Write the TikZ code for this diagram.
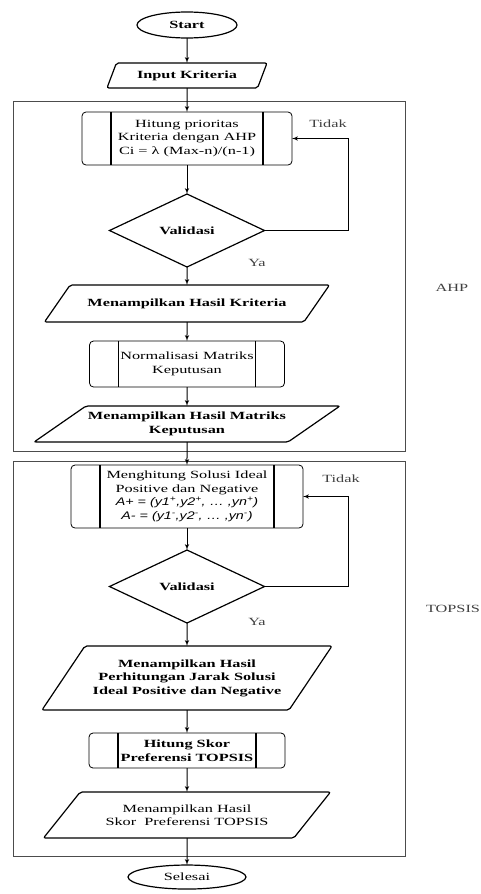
\documentclass[tikz,border=0pt]{standalone}
\usepackage{fontspec}
\setmainfont{Liberation Serif}[FakeStretch=1.48,
  UprightFont={Liberation Serif}, BoldFont={Liberation Serif Bold},
  ItalicFont={Liberation Serif Italic}, BoldItalicFont={Liberation Serif Bold Italic}]
\newfontfamily\formfont{Liberation Sans}[FakeStretch=1.3]
\usepackage{tikz}
\usetikzlibrary{positioning}
\usetikzlibrary{shapes.geometric,arrows}
\tikzstyle{base} = [font=\fontsize{11}{13.5}\selectfont, align=center, outer sep=0pt]
\tikzstyle{bold} = [font=\fontsize{11}{13.5}\selectfont\bfseries]
\tikzstyle{term} = [base, draw, ellipse, line width=1.2pt, inner sep=1pt]
\tikzstyle{io} = [base, draw, trapezium, trapezium stretches body, line width=1.2pt,
                rounded corners=2pt, inner sep=2pt]
\tikzstyle{sub} = [base, draw, rectangle, rounded corners=4pt, line width=0.8pt, inner sep=2pt,
                path picture={
                  \draw[line width=1.3pt] ([xshift=29pt]path picture bounding box.north west) -- ([xshift=29pt]path picture bounding box.south west);
                  \draw[line width=1.3pt] ([xshift=-29pt]path picture bounding box.north east) -- ([xshift=-29pt]path picture bounding box.south east);}]
\tikzstyle{decision} = [base, draw, diamond, line width=1.2pt, inner sep=0pt,
                minimum width=155pt, minimum height=73pt]
\tikzstyle{line} = [draw, -latex', line width=1pt]
\tikzstyle{frame} = [draw=black!70, line width=0.9pt]
\tikzstyle{lbl} = [base, text=black!75, inner sep=0pt]

\begin{document}
\begin{tikzpicture}[x=1pt,y=1pt]
        \useasboundingbox (0,0) rectangle (480,-894);
        \draw[frame] (13,-101) rectangle (405,-451);
        \draw[frame] (13,-461) rectangle (405,-856);
        \node[term, bold, minimum width=100pt, minimum height=26pt](start) at (187,-25){Start};
        \node[io, bold, below=25pt of start, minimum width=160pt, minimum height=25pt,
              trapezium left angle=56, trapezium right angle=124](input){Input Kriteria};
        \node[sub, below=24pt of input, minimum width=210pt, minimum height=53pt](hitung){Hitung prioritas\\ Kriteria dengan AHP\\ Ci = λ (Max-n)/(n-1)};
        \node[decision, bold, below=29pt of hitung](val1){Validasi};
        \node[io, bold, below=18pt of val1, minimum width=285pt, minimum height=37pt,
              trapezium left angle=28.6, trapezium right angle=151.4](hk){Menampilkan Hasil Kriteria};
        \node[sub, below=19pt of hk, minimum width=195pt, minimum height=46pt](norm){Normalisasi Matriks\\ Keputusan};
        \node[io, bold, below=19pt of norm, minimum width=285pt, minimum height=36pt,
              trapezium left angle=27.9, trapezium right angle=152.1](hm){Menampilkan Hasil Matriks\\ Keputusan};
        \node[sub, inner sep=1pt, below=23pt of hm, minimum width=232pt, minimum height=63pt](solusi){Menghitung Solusi Ideal\\ Positive dan Negative\\
              {\formfont\itshape A+ = (y1\textsuperscript{+},y2\textsuperscript{+}, … ,yn\textsuperscript{+})}\\
              {\formfont\itshape A- = (y1\textsuperscript{-},y2\textsuperscript{-}, … ,yn\textsuperscript{-})}};
        \node[decision, bold, below=22pt of solusi](val2){Validasi};
        \node[io, bold, below=23pt of val2, minimum width=290pt, minimum height=64pt,
              trapezium left angle=43.7, trapezium right angle=136.3](jarak){Menampilkan Hasil\\ Perhitungan Jarak Solusi\\ Ideal Positive dan Negative};
        \node[sub, bold, below=23pt of jarak, minimum width=196pt, minimum height=35pt](skor){Hitung Skor\\ Preferensi TOPSIS};
        \node[io, below=24pt of skor, minimum width=287pt, minimum height=46pt,
              trapezium left angle=34.5, trapezium right angle=145.5](hs){Menampilkan Hasil\\ Skor~ Preferensi TOPSIS};
        \node[term, below=27pt of hs, minimum width=118pt, minimum height=24pt](selesai){Selesai};
        % labels
        \node[lbl](tidak1) at (328,-124){Tidak};
        \node[lbl](ya1) at (257,-263){Ya};
        \node[lbl](ahp) at (452,-288){AHP};
        \node[lbl](tidak2) at (341,-479){Tidak};
        \node[lbl](ya2) at (257,-622){Ya};
        \node[lbl](topsis) at (453,-609){TOPSIS};
        \coordinate (back) at (348,0);
        \path[line](start) -- (input);
        \path[line](input) -- (hitung);
        \path[line](hitung) -- (val1);
        \path[line](val1.east) -- (val1.east -| back) |- (hitung.east);
        \path[line](val1) -- (hk);
        \path[line](hk) -- (norm);
        \path[line](norm) -- (hm);
        \path[line](hm) -- (solusi);
        \path[line](solusi) -- (val2);
        \path[line](val2.east) -- (val2.east -| back) |- (solusi.east);
        \path[line](val2) -- (jarak);
        \path[line](jarak) -- (skor);
        \path[line](skor) -- (hs);
        \path[line](hs) -- (selesai);
\end{tikzpicture}
\end{document}
